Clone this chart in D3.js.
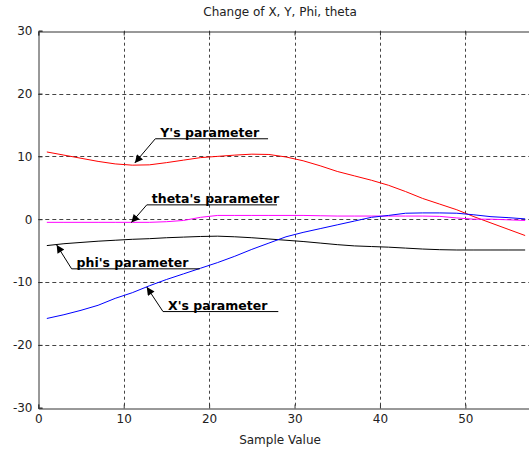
<!DOCTYPE html>
<html>
<head>
<meta charset="utf-8">
<script src="https://cdn.jsdelivr.net/npm/d3@7"></script>
<style>
  html, body { margin: 0; padding: 0; background: #fff; }
  svg { display: block; font-family: "DejaVu Sans", sans-serif; }
</style>
</head>
<body>
<div id="chart"></div>
<script>
// Données (estimations)
const sampleX = [1, 3, 5, 7, 9, 11, 13, 15, 17, 19, 21, 23, 25, 27, 29, 31, 33, 35, 37, 39, 41, 43, 45, 47, 49, 51, 53, 55, 57]
const yParam = [10.7, 10.2, 9.7, 9.2, 8.8, 8.6, 8.65, 9.0, 9.4, 9.8, 10.0, 10.2, 10.35, 10.3, 9.9, 9.3, 8.5, 7.6, 6.9, 6.2, 5.4, 4.4, 3.3, 2.4, 1.5, 0.4, -0.6, -1.6, -2.6]
const thetaParam = [-0.5, -0.5, -0.5, -0.5, -0.5, -0.5, -0.5, -0.4, -0.2, 0.3, 0.6, 0.6, 0.6, 0.6, 0.6, 0.6, 0.55, 0.5, 0.5, 0.5, 0.5, 0.5, 0.5, 0.45, 0.2, 0.0, 0.0, -0.1, -0.2]
const phiParam = [-4.2, -3.9, -3.7, -3.5, -3.35, -3.2, -3.1, -2.95, -2.85, -2.75, -2.7, -2.8, -2.95, -3.15, -3.35, -3.55, -3.8, -4.05, -4.25, -4.35, -4.45, -4.6, -4.75, -4.85, -4.9, -4.9, -4.9, -4.9, -4.9]
const xParam = [-15.8, -15.2, -14.5, -13.7, -12.6, -11.7, -10.6, -9.6, -8.7, -7.8, -6.9, -5.9, -4.8, -3.8, -2.8, -2.1, -1.5, -0.9, -0.3, 0.3, 0.6, 0.95, 1.0, 1.0, 0.95, 0.7, 0.4, 0.25, 0.05]

const xTicks = [0, 10, 20, 30, 40, 50]
const yTicks = [-30, -20, -10, 0, 10, 20, 30]

// Annotations : pointe de flèche, coude, fin du soulignement (unités des données)
const annotations = [
  { label: "Y's parameter", tip: [11.3, 8.96], elbow: [13.7, 12.8], end: [26.9, 12.8] },
  { label: "theta's parameter", tip: [10.9, -0.54], elbow: [12.7, 2.28], end: [27.95, 2.28] },
  { label: "phi's parameter", tip: [2.15, -4.1], elbow: [3.9, -7.9], end: [18.9, -7.9] },
  { label: "X's parameter", tip: [12.7, -10.8], elbow: [14.6, -14.7], end: [28.1, -14.7] },
]

const W = 529, H = 450
const margin = { top: 30.7, right: 0, bottom: 42.3, left: 38.3 }

const svg = d3.select("#chart").append("svg")
  .attr("width", W).attr("height", H)

const x = d3.scaleLinear().domain([0, 57.45]).range([margin.left, W - margin.right])
const y = d3.scaleLinear().domain([-30, 30]).range([H - margin.bottom, margin.top])

const gridColor = "#444"
const axisColor = "#333"
const textColor = "#222"
// Tirets ASCII comme dans l'original (pas de U+2212)
const fmtTick = d => String(d)

// --- Grille pointillée ---
svg.append("g")
  .selectAll("line.vgrid")
  .data(xTicks.filter(d => d > 0))
  .join("line")
  .attr("x1", d => Math.round(x(d)) + 0.5).attr("x2", d => Math.round(x(d)) + 0.5)
  .attr("y1", y(30)).attr("y2", y(-30))
  .attr("stroke", gridColor).attr("stroke-dasharray", "3,3")

svg.append("g")
  .selectAll("line.hgrid")
  .data(yTicks.filter(d => d > -30 && d < 30))
  .join("line")
  .attr("y1", d => Math.round(y(d)) + 0.5).attr("y2", d => Math.round(y(d)) + 0.5)
  .attr("x1", x(0)).attr("x2", W)
  .attr("stroke", gridColor).attr("stroke-dasharray", "4,3")

// --- Axes ---
const styleAxis = g => {
  g.select(".domain").attr("stroke", axisColor)
  g.selectAll("line").attr("stroke", axisColor)
  g.selectAll("text").attr("fill", textColor).attr("font-size", 12)
    .attr("font-family", "'DejaVu Sans', sans-serif")
}

svg.append("g")
  .attr("transform", `translate(0,${Math.round(y(-30)) + 0.5})`)
  .call(d3.axisBottom(x).tickValues(xTicks).tickSize(-4).tickPadding(6).tickFormat(fmtTick))
  .call(styleAxis)

svg.append("g")
  .attr("transform", `translate(0,${Math.round(y(30)) + 0.5})`)
  .call(d3.axisTop(x).tickValues(xTicks).tickSize(-4).tickFormat(""))
  .call(styleAxis)

svg.append("g")
  .attr("transform", `translate(${Math.round(x(0)) + 0.5},0)`)
  .call(d3.axisLeft(y).tickValues(yTicks).tickSize(-4).tickPadding(6).tickFormat(fmtTick))
  .call(styleAxis)

// --- Courbes ---
const series = [
  { values: yParam, color: "#ff0000" },
  { values: thetaParam, color: "#ff00ff" },
  { values: phiParam, color: "#000000" },
  { values: xParam, color: "#0000ff" },
]

const line = d3.line()
  .x(d => x(d[0]))
  .y(d => y(d[1]))

svg.append("g")
  .selectAll("path.series")
  .data(series)
  .join("path")
  .attr("class", "series")
  .attr("fill", "none")
  .attr("stroke", d => d.color)
  .attr("stroke-width", 1)
  .attr("d", d => line(sampleX.map((v, i) => [v, d.values[i]])))

// --- Annotations (flèches + libellés soulignés) ---
svg.append("defs").append("marker")
  .attr("id", "arrow")
  .attr("viewBox", "0 0 10 10")
  .attr("refX", 10).attr("refY", 5)
  .attr("markerWidth", 11).attr("markerHeight", 8)
  .attr("markerUnits", "userSpaceOnUse")
  .attr("orient", "auto")
  .append("path")
  .attr("d", "M0,0 L10,5 L0,10 z")
  .attr("fill", "#000")

const ann = svg.append("g").selectAll("g.ann")
  .data(annotations)
  .join("g")

ann.append("path")
  .attr("fill", "none")
  .attr("stroke", "#000")
  .attr("d", d => `M${x(d.end[0])},${y(d.end[1])} L${x(d.elbow[0])},${y(d.elbow[1])} L${x(d.tip[0])},${y(d.tip[1])}`)
  .attr("marker-end", "url(#arrow)")

ann.append("text")
  .attr("x", d => x(d.elbow[0]) + 5)
  .attr("y", d => y(d.elbow[1]) - 2)
  .attr("font-size", 12.5)
  .attr("font-weight", "bold")
  .attr("fill", "#000")
  .text(d => d.label)

// --- Titre + label axe X ---
svg.append("text")
  .attr("x", x(28.3)).attr("y", 16)
  .attr("text-anchor", "middle")
  .attr("font-size", 12).attr("fill", textColor)
  .text("Change of X, Y, Phi, theta")

svg.append("text")
  .attr("x", x(28.3)).attr("y", 444)
  .attr("text-anchor", "middle")
  .attr("font-size", 12).attr("fill", textColor)
  .text("Sample Value")
</script>
</body>
</html>
